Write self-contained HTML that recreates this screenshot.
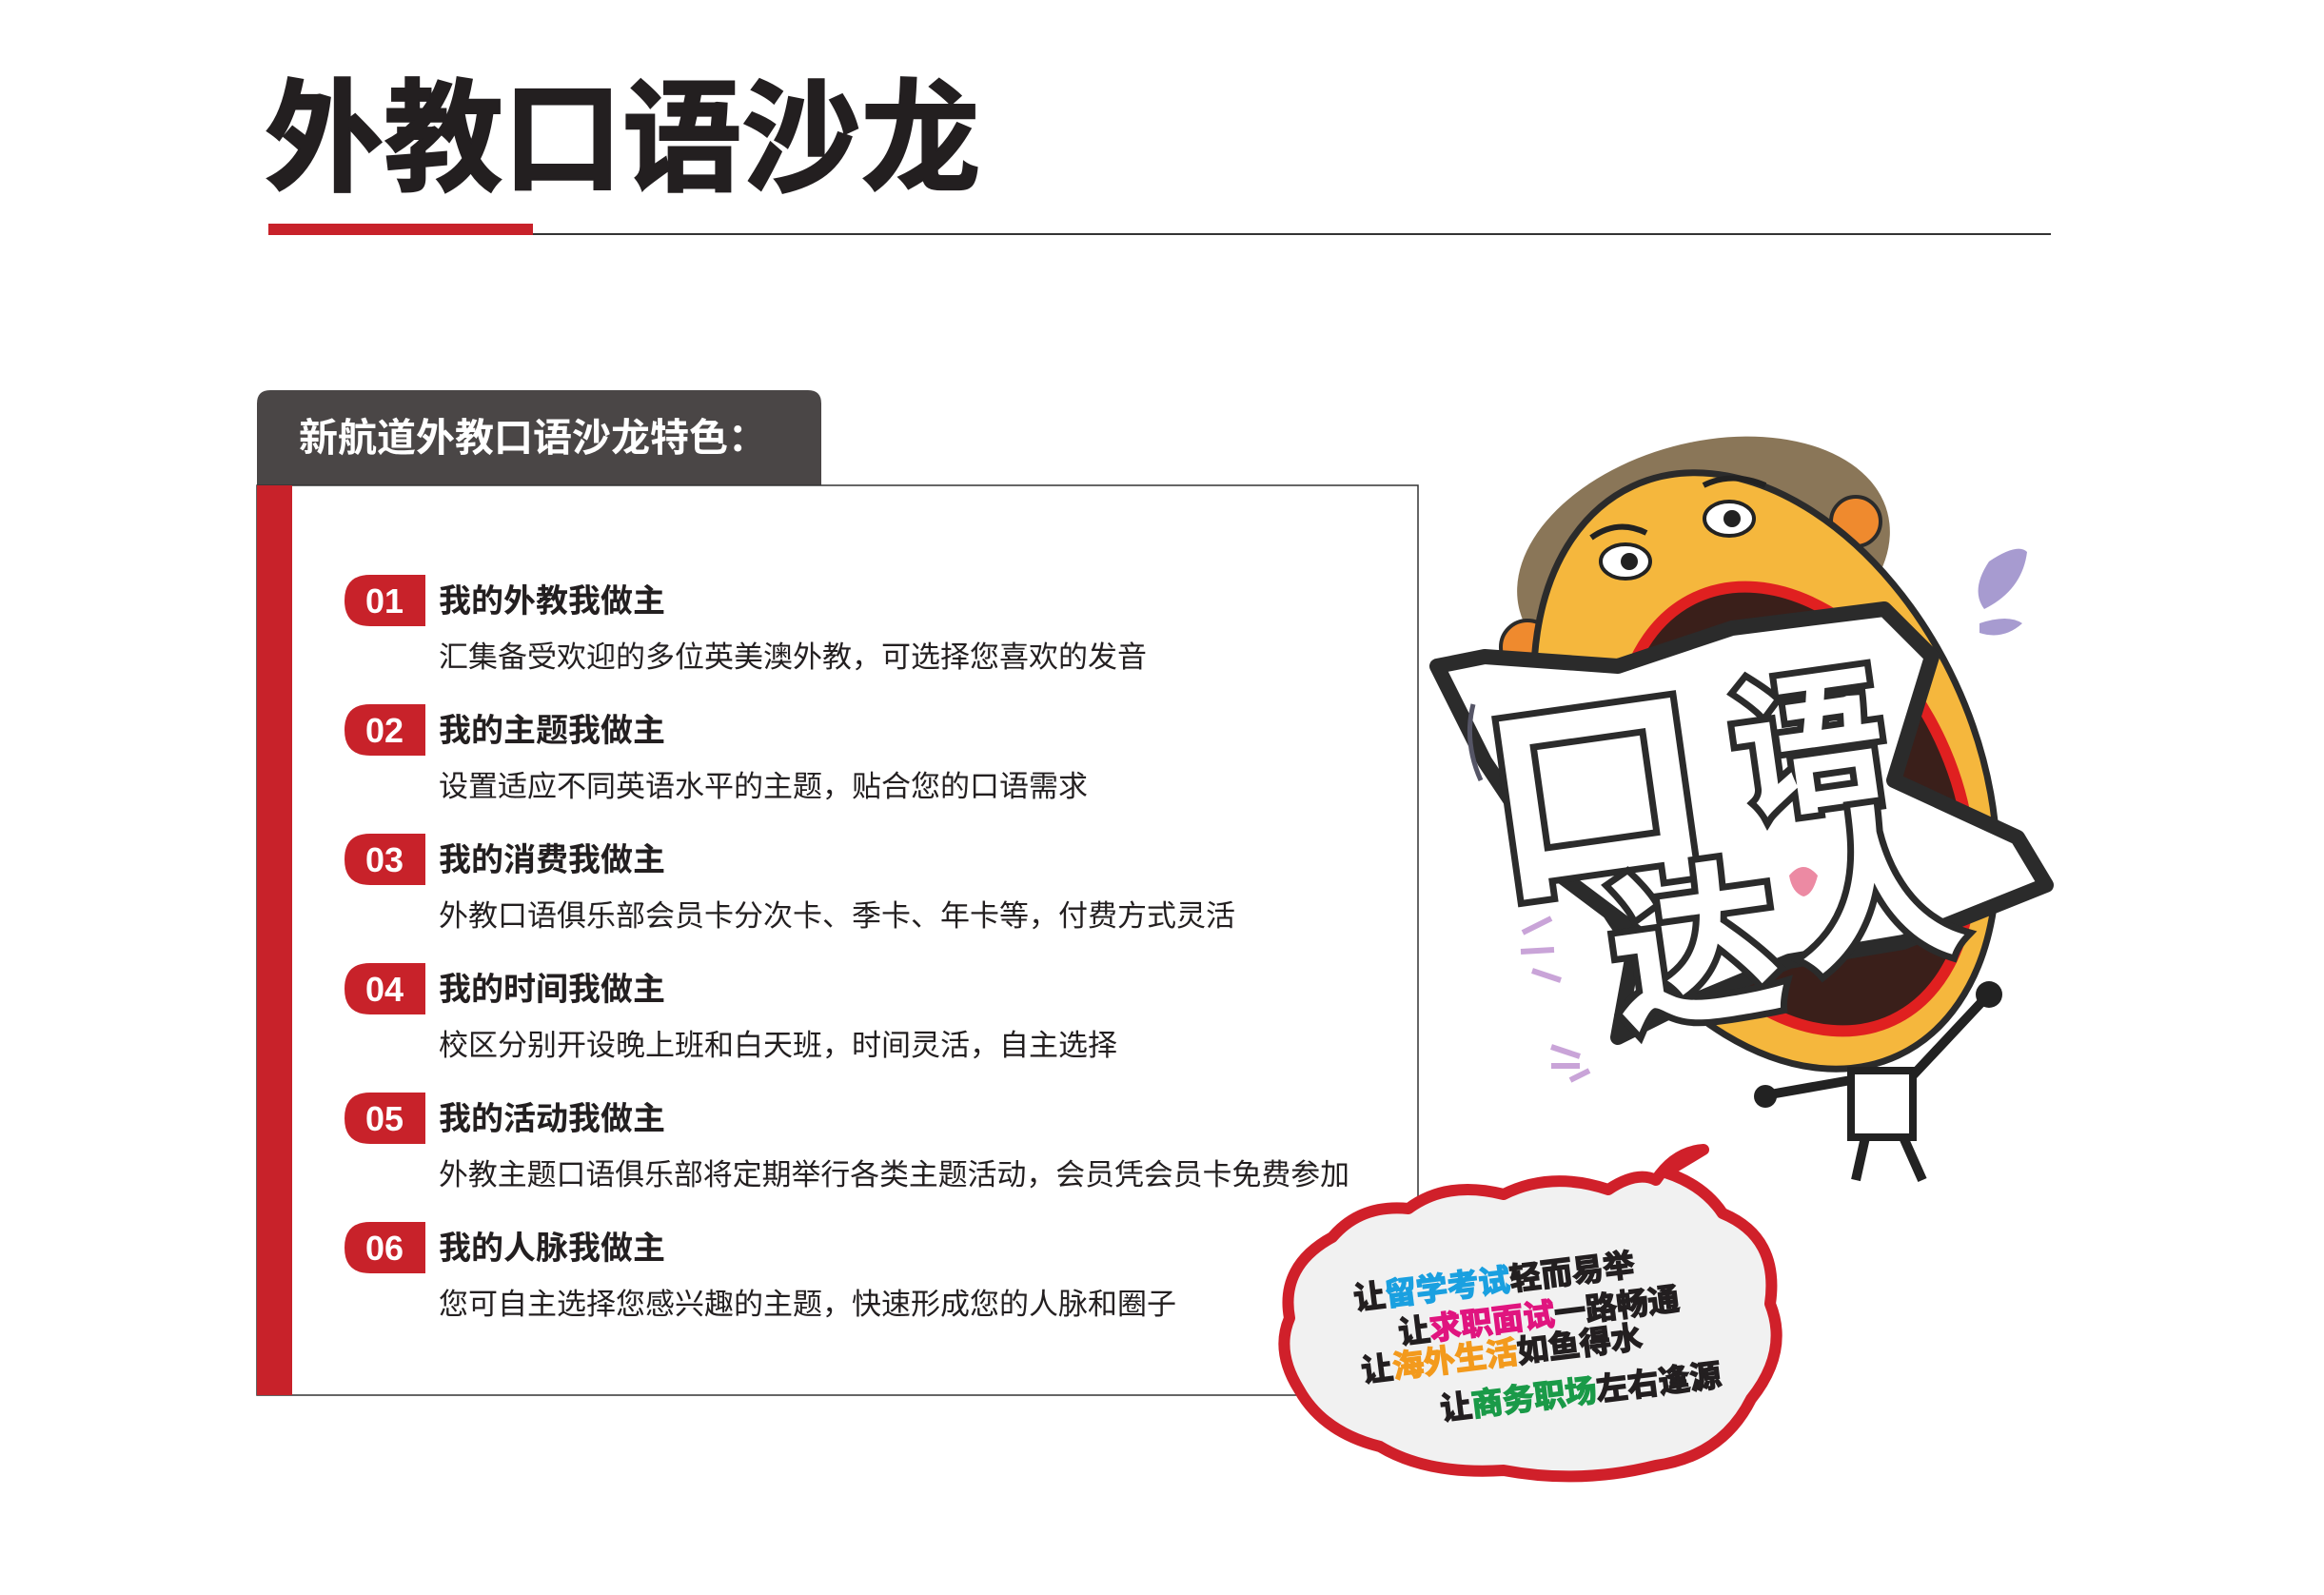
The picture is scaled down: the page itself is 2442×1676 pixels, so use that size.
<!DOCTYPE html>
<html><head><meta charset="utf-8"><style>
html,body{margin:0;padding:0;background:#fff}
svg{display:block}
</style></head><body>
<svg width="2442" height="1676" viewBox="0 0 2442 1676" xmlns="http://www.w3.org/2000/svg" font-family="'Liberation Sans','Noto Sans CJK SC',sans-serif">
<text x="278" y="190" font-size="128" font-weight="bold" fill="#231f20" stroke="#231f20" stroke-width="2" textLength="752" lengthAdjust="spacingAndGlyphs">外教口语沙龙</text>
<rect x="282" y="235" width="278" height="12" fill="#c8222a"/>
<rect x="560" y="245" width="1595" height="2" fill="#333"/>
<path d="M270 510 V424 Q270 410 284 410 H849 Q863 410 863 424 V510 Z" fill="#4a4646"/>
<text x="314" y="474" font-size="41" font-weight="bold" fill="#fff">新航道外教口语沙龙特色：</text>
<rect x="270" y="510" width="1220" height="956" fill="none" stroke="#333" stroke-width="1.5"/>
<rect x="270" y="510" width="37" height="956" fill="#c8222a"/>
<g>
<path d="M447 604 H389 Q362 604 362 631 Q362 658 389 658 H447 Z" fill="#c8222a"/>
<text x="404" y="644" font-size="36" font-weight="bold" fill="#fff" text-anchor="middle">01</text>
<text x="461" y="643" font-size="34" font-weight="bold" fill="#231f20">我的外教我做主</text>
<text x="461" y="701" font-size="31" fill="#231f20">汇集备受欢迎的多位英美澳外教，可选择您喜欢的发音</text>
</g>
<g transform="translate(0,136)">
<path d="M447 604 H389 Q362 604 362 631 Q362 658 389 658 H447 Z" fill="#c8222a"/>
<text x="404" y="644" font-size="36" font-weight="bold" fill="#fff" text-anchor="middle">02</text>
<text x="461" y="643" font-size="34" font-weight="bold" fill="#231f20">我的主题我做主</text>
<text x="461" y="701" font-size="31" fill="#231f20">设置适应不同英语水平的主题，贴合您的口语需求</text>
</g>
<g transform="translate(0,272)">
<path d="M447 604 H389 Q362 604 362 631 Q362 658 389 658 H447 Z" fill="#c8222a"/>
<text x="404" y="644" font-size="36" font-weight="bold" fill="#fff" text-anchor="middle">03</text>
<text x="461" y="643" font-size="34" font-weight="bold" fill="#231f20">我的消费我做主</text>
<text x="461" y="701" font-size="31" fill="#231f20">外教口语俱乐部会员卡分次卡、季卡、年卡等，付费方式灵活</text>
</g>
<g transform="translate(0,408)">
<path d="M447 604 H389 Q362 604 362 631 Q362 658 389 658 H447 Z" fill="#c8222a"/>
<text x="404" y="644" font-size="36" font-weight="bold" fill="#fff" text-anchor="middle">04</text>
<text x="461" y="643" font-size="34" font-weight="bold" fill="#231f20">我的时间我做主</text>
<text x="461" y="701" font-size="31" fill="#231f20">校区分别开设晚上班和白天班，时间灵活，自主选择</text>
</g>
<g transform="translate(0,544)">
<path d="M447 604 H389 Q362 604 362 631 Q362 658 389 658 H447 Z" fill="#c8222a"/>
<text x="404" y="644" font-size="36" font-weight="bold" fill="#fff" text-anchor="middle">05</text>
<text x="461" y="643" font-size="34" font-weight="bold" fill="#231f20">我的活动我做主</text>
<text x="461" y="701" font-size="31" fill="#231f20" textLength="957" lengthAdjust="spacingAndGlyphs">外教主题口语俱乐部将定期举行各类主题活动，会员凭会员卡免费参加</text>
</g>
<g transform="translate(0,680)">
<path d="M447 604 H389 Q362 604 362 631 Q362 658 389 658 H447 Z" fill="#c8222a"/>
<text x="404" y="644" font-size="36" font-weight="bold" fill="#fff" text-anchor="middle">06</text>
<text x="461" y="643" font-size="34" font-weight="bold" fill="#231f20">我的人脉我做主</text>
<text x="461" y="701" font-size="31" fill="#231f20">您可自主选择您感兴趣的主题，快速形成您的人脉和圈子</text>
</g>

<g>
<ellipse cx="1790" cy="590" rx="200" ry="125" transform="rotate(-15 1790 590)" fill="#8a7658"/>
<circle cx="1605" cy="680" r="28" fill="#ef8a2e" stroke="#2b2b2b" stroke-width="4"/>
<circle cx="1950" cy="548" r="26" fill="#ef8a2e" stroke="#2b2b2b" stroke-width="4"/>
<ellipse cx="1855" cy="810" rx="220" ry="330" transform="rotate(-25 1855 810)" fill="#f5b73d" stroke="#2b2b2b" stroke-width="7"/>
<ellipse cx="1708" cy="590" rx="26" ry="18" fill="#fff" stroke="#222" stroke-width="4"/>
<circle cx="1712" cy="590" r="9" fill="#222"/>
<ellipse cx="1817" cy="545" rx="26" ry="18" fill="#fff" stroke="#222" stroke-width="4"/>
<circle cx="1820" cy="545" r="9" fill="#222"/>
<path d="M1672 565 Q1700 545 1730 560" stroke="#222" stroke-width="6" fill="none"/>
<path d="M1790 510 Q1820 495 1855 510" stroke="#222" stroke-width="6" fill="none"/>
<ellipse cx="1885" cy="850" rx="170" ry="245" transform="rotate(-25 1885 850)" fill="#3a1f1a" stroke="#e02020" stroke-width="12"/>
<path d="M1510 700 L1560 690 L1700 700 L1820 660 L1980 640 L2030 690 L1990 820 L2120 880 L2150 930 L2000 990 L1880 1010 L1760 1060 L1700 1090 L1720 980 L1640 920 L1560 800 Z" fill="#fff" stroke="#2b2b2b" stroke-width="16" stroke-linejoin="round"/>
<g font-weight="bold" fill="#fff" stroke="#2b2b2b" stroke-width="14" paint-order="stroke" font-size="230">
<text x="1560" y="920" transform="rotate(-8 1660 820)">口</text>
<text x="1820" y="840" font-size="160" transform="rotate(-8 1900 780)">语</text>
<text x="1690" y="1060" font-size="180" transform="rotate(-8 1780 980)">达</text>
<text x="1880" y="1000" font-size="180" transform="rotate(-8 1960 930)">人</text>
</g>
<path d="M1880 920 q15 -18 30 0 q-5 20 -15 22 q-12 -4 -15 -22z" fill="#ec8aa3"/>
<path d="M2090 590 q30 -20 40 -10 q-5 40 -45 60 q-15 -20 5 -50z" fill="#a79bd0"/>
<path d="M2080 655 q30 -10 45 0 q-20 18 -45 10z" fill="#a79bd0"/>
<path d="M1548 740 q-10 40 8 80" stroke="#556" stroke-width="5" fill="none"/>
<path d="M1600 980 l30 -15 M1598 1000 l35 -2 M1610 1020 l30 10" stroke="#c9a4d8" stroke-width="6"/>
<path d="M1630 1100 l30 10 M1630 1120 l30 0 M1650 1135 l20 -10" stroke="#c9a4d8" stroke-width="6"/>
<rect x="1945" y="1125" width="65" height="70" fill="#fff" stroke="#222" stroke-width="8"/>
<path d="M1945 1135 L1860 1150 M2010 1130 L2085 1050 M1960 1195 L1950 1240 M2000 1195 L2020 1240" stroke="#222" stroke-width="10" fill="none"/>
<circle cx="2090" cy="1045" r="14" fill="#222"/>
<circle cx="1855" cy="1152" r="12" fill="#222"/>
</g>

<path d="M1400 1300 Q1430 1265 1480 1270 Q1520 1240 1580 1255 Q1630 1230 1690 1250 Q1720 1230 1740 1240 Q1760 1210 1790 1208 L1750 1232 Q1790 1245 1810 1275 Q1870 1300 1860 1370 Q1880 1420 1840 1470 Q1810 1530 1740 1540 Q1660 1560 1580 1545 Q1500 1550 1450 1520 Q1390 1505 1365 1460 Q1340 1420 1355 1385 Q1345 1330 1400 1300 Z" fill="#f1f1f1" stroke="#d0202a" stroke-width="12" stroke-linejoin="round"/>
<g font-size="33" font-weight="bold" fill="#231f20" stroke="#231f20" stroke-width="1.5">
<text x="1424" y="1376" transform="rotate(-7 1424 1376)">让<tspan fill="#1aa0e0" stroke="#1aa0e0">留学考试</tspan>轻而易举</text>
<text x="1471" y="1412" transform="rotate(-7 1471 1412)">让<tspan fill="#e0157f" stroke="#e0157f">求职面试</tspan>一路畅通</text>
<text x="1432" y="1452" transform="rotate(-7 1432 1452)">让<tspan fill="#f39a1d" stroke="#f39a1d">海外生活</tspan>如鱼得水</text>
<text x="1515" y="1492" transform="rotate(-7 1515 1492)">让<tspan fill="#1a9a48" stroke="#1a9a48">商务职场</tspan>左右逢源</text>
</g>
</svg>
</body></html>
